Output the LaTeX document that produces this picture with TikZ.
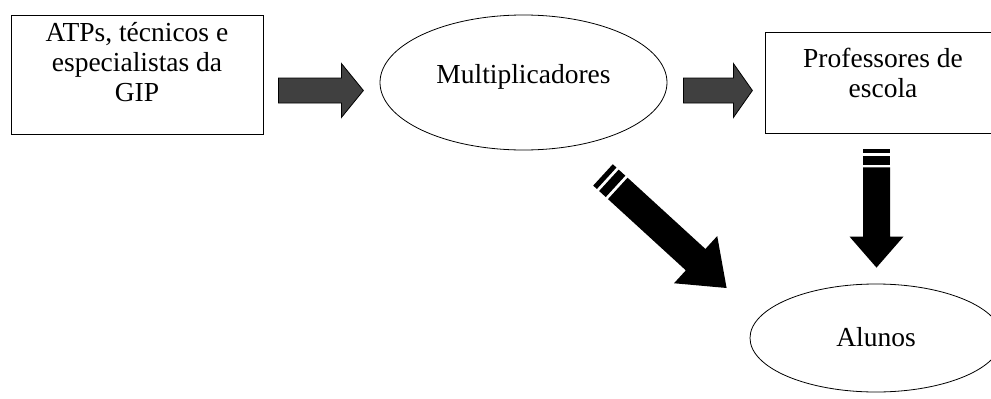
\documentclass[tikz,border=0pt]{standalone}
\usepackage{fontspec}
\setmainfont{Liberation Serif}
\usetikzlibrary{calc,shapes.geometric}

% block arrow: [style]{tail}{tip}{half shaft}{half head}{head length}
\newcommand{\blockarrow}[6][]{%
  \coordinate (hb) at ($(#3)!#6!(#2)$);
  \path[#1] ($(#2)!#4!90:(#3)$) -- ($(hb)!#4!90:(#3)$) -- ($(hb)!#5!90:(#3)$)
    -- (#3) -- ($(hb)!#5!-90:(#3)$) -- ($(hb)!#4!-90:(#3)$) -- ($(#2)!#4!-90:(#3)$) -- cycle;
}
% stripe of a block arrow: {tail}{tip}{from}{to}{half width}
\newcommand{\blockbar}[5]{%
  \coordinate (ba) at ($(#1)!#3!(#2)$);
  \coordinate (bb) at ($(#1)!#4!(#2)$);
  \fill ($(ba)!#5!90:(#2)$) -- ($(bb)!#5!90:(#2)$) -- ($(bb)!#5!-90:(#2)$) -- ($(ba)!#5!-90:(#2)$) -- cycle;
}

\begin{document}
\begin{tikzpicture}[
    x=1pt, y=-1pt,
    every node/.style={font=\fontsize{27.5}{30}\selectfont},
    box/.style={%
      draw,
      rectangle,
      line width=0.8pt,
      inner sep=0pt,
      align=center,
    },
    oval/.style={%
      draw,
      ellipse,
      line width=0.8pt,
      inner sep=0pt,
    },
    grayarrow/.style={fill=black!75, draw=black, line width=0.8pt},
  ]
    \useasboundingbox (0,0) rectangle (991,399);
    \node [box, minimum width=252pt, minimum height=119pt, text depth=25pt] (atp) at (137,74.5)
      {ATPs, técnicos e\\especialistas da\\GIP};
    \path (atp) ++(386.5,8) node [oval, minimum width=287pt, minimum height=135pt,
      text height=19pt, text depth=18pt] (mult) {Multiplicadores};
    \path (mult) ++(359.5,0) node [box, minimum width=236pt, minimum height=101pt,
      text depth=19pt] (prof) {Professores de\\escola};
    \path (prof) ++(-7,255.5) node [oval, minimum width=252pt, minimum height=108pt,
      text height=19pt, text depth=2pt] (alunos) {Alunos};
    % arrows
    \coordinate (a1s) at ($(atp.east)+(15,16)$);
    \coordinate (a1e) at ($(a1s)+(85,0)$);
    \coordinate (a2s) at ($(mult.east)+(16,8)$);
    \coordinate (a2e) at ($(a2s)+(69,0)$);
    \coordinate (a3s) at ($(prof.south)+(-6.5,16)$);
    \coordinate (a3e) at ($(alunos.north)+(0.5,-16)$);
    \coordinate (a4s) at ($(mult.south)+(79.5,24.5)$);
    \coordinate (a4e) at ($(alunos.west)+(-23,-50)$);
    \blockarrow[grayarrow]{a1s}{a1e}{12.5pt}{27pt}{22pt}
    \blockarrow[grayarrow]{a2s}{a2e}{12.5pt}{27pt}{19pt}
    \blockbar{a3s}{a3e}{0pt}{4pt}{13.5pt}
    \blockbar{a3s}{a3e}{7pt}{16pt}{13.5pt}
    \blockarrow[fill=black]{$(a3s)!18pt!(a3e)$}{a3e}{13.5pt}{27pt}{31pt}
    \blockbar{a4s}{a4e}{0pt}{5pt}{14.5pt}
    \blockbar{a4s}{a4e}{8pt}{17pt}{14.5pt}
    \blockarrow[fill=black]{$(a4s)!20pt!(a4e)$}{a4e}{14.5pt}{32pt}{42pt}
\end{tikzpicture}
\end{document}
